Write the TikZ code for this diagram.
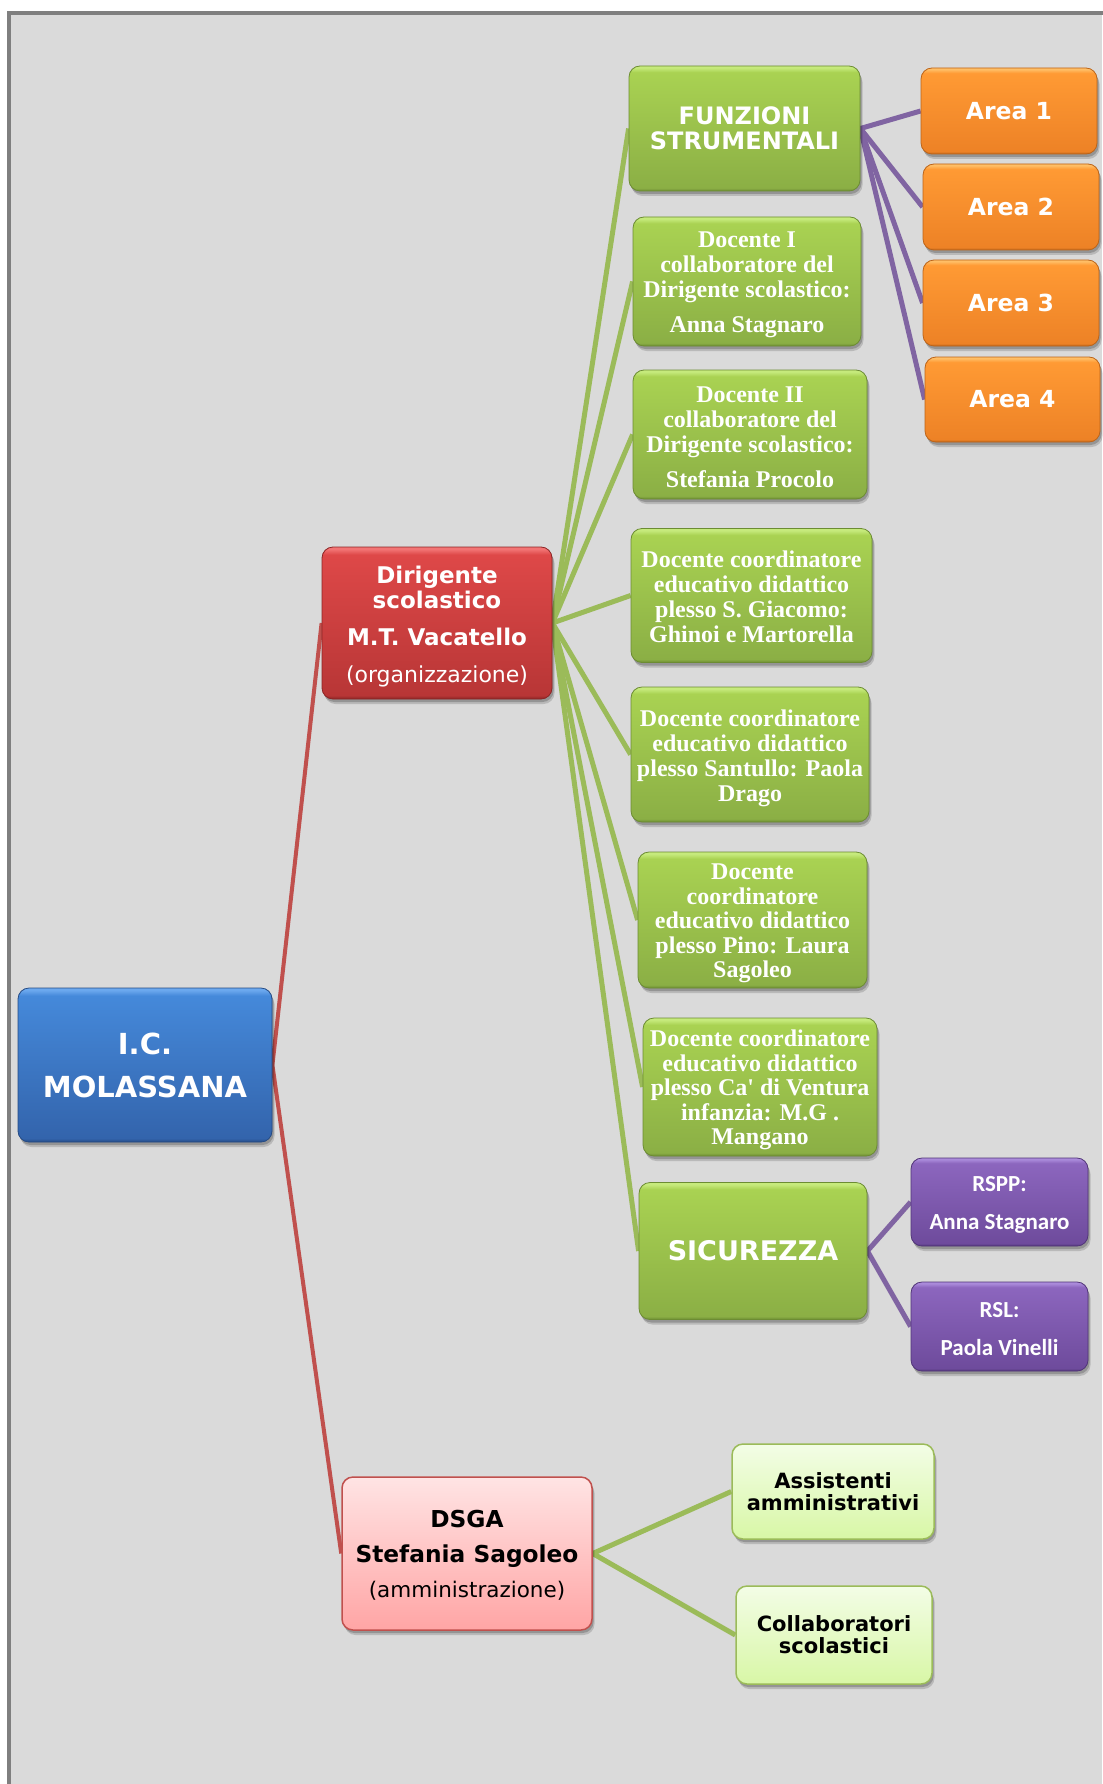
\documentclass[tikz,border=0pt]{standalone}
\usepackage{fontspec}
\usetikzlibrary{shadows}
\newfontfamily\vfont{DejaVu Sans}
\newfontfamily\tfont{Liberation Serif}
\newfontfamily\cfont{Carlito}
\newcommand\liftup[1]{\rule{0pt}{#1}}
\definecolor{bgc}{HTML}{DADADA}
\definecolor{framec}{HTML}{7F7F7F}
% green
\definecolor{gH}{HTML}{C6EA7C}
\definecolor{gT}{HTML}{A9D252}
\definecolor{gB}{HTML}{8BAF45}
\definecolor{gR}{HTML}{6C8C33}
% blue
\definecolor{bH}{HTML}{6CA8EE}
\definecolor{bT}{HTML}{4589DA}
\definecolor{bB}{HTML}{3364AC}
\definecolor{bR}{HTML}{254B84}
% red
\definecolor{rH}{HTML}{F27474}
\definecolor{rT}{HTML}{DE4848}
\definecolor{rB}{HTML}{B83636}
\definecolor{rR}{HTML}{8C2525}
% orange
\definecolor{oH}{HTML}{FFBE66}
\definecolor{oT}{HTML}{FF9A34}
\definecolor{oB}{HTML}{ED8226}
\definecolor{oR}{HTML}{BC6419}
% purple
\definecolor{pH}{HTML}{AA8ADA}
\definecolor{pT}{HTML}{8C66BE}
\definecolor{pB}{HTML}{6E4B9C}
\definecolor{pR}{HTML}{513578}
\definecolor{pkT}{HTML}{FFE4E4}
\definecolor{pkB}{HTML}{FFA5A5}
\definecolor{lgT}{HTML}{F3FDE6}
\definecolor{lgB}{HTML}{D8F7A6}
\definecolor{lineR}{HTML}{C0504D}
\definecolor{lineG}{HTML}{9BBB59}
\definecolor{lineP}{HTML}{8064A2}
\pgfdeclareverticalshading{gsh}{100bp}{color(0bp)=(gR); color(25bp)=(gR); color(26.2bp)=(gB); color(72.5bp)=(gT); color(74.3bp)=(gH); color(100bp)=(gH)}
\pgfdeclareverticalshading{bsh}{100bp}{color(0bp)=(bR); color(25bp)=(bR); color(26.2bp)=(bB); color(72.5bp)=(bT); color(74.3bp)=(bH); color(100bp)=(bH)}
\pgfdeclareverticalshading{rsh}{100bp}{color(0bp)=(rR); color(25bp)=(rR); color(26.2bp)=(rB); color(72.5bp)=(rT); color(74.3bp)=(rH); color(100bp)=(rH)}
\pgfdeclareverticalshading{osh}{100bp}{color(0bp)=(oR); color(25bp)=(oR); color(26.5bp)=(oB); color(72bp)=(oT); color(74.2bp)=(oH); color(100bp)=(oH)}
\pgfdeclareverticalshading{psh}{100bp}{color(0bp)=(pR); color(25bp)=(pR); color(26.5bp)=(pB); color(72bp)=(pT); color(74.2bp)=(pH); color(100bp)=(pH)}
\pgfdeclarelayer{bglayer}
\pgfdeclarelayer{linelayer}
\pgfsetlayers{bglayer,linelayer,main}
\begin{document}
\begin{tikzpicture}[x=1pt,y=-1pt,
  box/.style={rectangle, rounded corners=11pt, inner sep=0pt, align=center,
    drop shadow={shadow xshift=2.5pt, shadow yshift=-5pt, opacity=0.15, fill=black},
    drop shadow={shadow xshift=1.5pt, shadow yshift=-3pt, opacity=0.2, fill=black}},
  bluebox/.style={box, shade, shading=bsh, draw=bR, line width=0.8pt, text=white,
    font=\vfont\bfseries\fontsize{29}{43}\selectfont},
  redbox/.style={box, shade, shading=rsh, draw=rR, line width=0.8pt, text=white,
    font=\vfont\bfseries\fontsize{23}{25}\selectfont},
  greenbox/.style={box, shade, shading=gsh, draw=gR, line width=0.8pt, text=white},
  docbox/.style={greenbox, font=\tfont\bfseries\fontsize{24}{25}\selectfont},
  orbox/.style={box, shade, shading=osh, draw=oR, line width=0.8pt, text=white,
    font=\vfont\bfseries\fontsize{23.5}{28}\selectfont, minimum width=176pt, minimum height=86pt},
  pubox/.style={box, shade, shading=psh, draw=pR, line width=0.8pt, text=white,
    font=\cfont\bfseries\fontsize{23}{38}\selectfont, minimum width=177pt, minimum height=88pt},
  pkbox/.style={box, top color=pkT, bottom color=pkB, draw=lineR, line width=1.5pt, text=black},
  lgbox/.style={box, top color=lgT, bottom color=lgB, draw=lineG, line width=1.5pt, text=black,
    font=\vfont\bfseries\fontsize{21}{22}\selectfont},
  redline/.style={draw=lineR, line width=4pt},
  greenline/.style={draw=lineG, line width=5pt},
  purpleline/.style={draw=lineP, line width=5pt}
]
\useasboundingbox (0,0) rectangle (1102,1784);
\begin{pgfonlayer}{bglayer}
  \fill[white] (0,0) rectangle (1102,1784);
  \fill[bgc] (9,13) rectangle (1102,1784);
  \draw[framec, line width=4pt] (9,1790) -- (9,13) -- (1110,13);
\end{pgfonlayer}

% root
\node[bluebox, minimum width=254pt, minimum height=154pt] (ic) at (145,1065) {\liftup{23pt}I.C.\\MOLASSANA};

% Dirigente
\node[redbox, minimum width=230pt, minimum height=152pt] (dir) at (437,623)
  {\liftup{24pt}Dirigente\\scolastico\\[12pt]M.T. Vacatello\\[12pt]{\mdseries\fontsize{22}{25}\selectfont (organizzazione)}};

% DSGA
\node[pkbox, minimum width=250pt, minimum height=153pt, font=\vfont\bfseries\fontsize{23.3}{35}\selectfont] (dsga) at (467,1553.5)
  {\liftup{21pt}DSGA\\Stefania Sagoleo\\{\mdseries\fontsize{21.5}{35}\selectfont (amministrazione)}};

% Dirigente children
\node[greenbox, minimum width=231pt, minimum height=125pt, font=\vfont\bfseries\fontsize{24}{25}\selectfont] (fs) at (744.5,128.5)
  {FUNZIONI\\STRUMENTALI};
\node[docbox, minimum width=228pt, minimum height=129pt] (d1) at (747,281.5)
  {\liftup{23pt}Docente I\\collaboratore del\\Dirigente scolastico:\\[10pt]Anna Stagnaro};
\node[docbox, minimum width=234pt, minimum height=129pt] (d2) at (750,434.5)
  {\liftup{22pt}Docente II\\collaboratore del\\Dirigente scolastico:\\[10pt]Stefania Procolo};
\node[docbox, minimum width=241pt, minimum height=134pt] (c1) at (751.5,595.5)
  {\liftup{19pt}Docente coordinatore\\educativo didattico\\plesso S. Giacomo:\\Ghinoi e Martorella};
\node[docbox, minimum width=238pt, minimum height=135pt] (c2) at (750,754.5)
  {\liftup{24pt}Docente coordinatore\\educativo didattico\\plesso Santullo: Paola\\Drago};
\node[docbox, minimum width=229pt, minimum height=136pt, font=\tfont\bfseries\fontsize{24}{24.5}\selectfont] (c3) at (752.5,920)
  {\liftup{23pt}Docente\\coordinatore\\educativo didattico\\plesso Pino: Laura\\Sagoleo};
\node[docbox, minimum width=234pt, minimum height=138pt, font=\tfont\bfseries\fontsize{24}{24.5}\selectfont] (c4) at (760,1087)
  {\liftup{23pt}Docente coordinatore\\educativo didattico\\plesso Ca' di Ventura\\infanzia: M.G .\\Mangano};
\node[greenbox, minimum width=228pt, minimum height=137pt, font=\vfont\bfseries\fontsize{27}{30}\selectfont] (sic) at (753,1251)
  {SICUREZZA};

% Areas
\node[orbox] (a1) at (1009,111) {Area 1};
\node[orbox] (a2) at (1011,207) {Area 2};
\node[orbox] (a3) at (1011,303) {Area 3};
\node[orbox, minimum width=175pt, minimum height=85pt] (a4) at (1012.5,399.5) {Area 4};

% Sicurezza children
\node[pubox] (rspp) at (999.5,1202) {\liftup{20pt}RSPP:\\Anna Stagnaro};
\node[pubox, minimum height=89pt] (rsl) at (999.5,1326.5) {\liftup{20pt}RSL:\\Paola Vinelli};

% DSGA children
\node[lgbox, minimum width=202pt, minimum height=95pt] (ass) at (833,1491.5) {Assistenti\\amministrativi};
\node[lgbox, minimum width=196pt, minimum height=98pt] (col) at (834,1635) {Collaboratori\\scolastici};

\begin{pgfonlayer}{linelayer}
  \draw[redline] (ic.east) -- (dir.west);
  \draw[redline] (ic.east) -- (dsga.west);
  \foreach \n in {fs,d1,d2,c1,c2,c3,c4,sic} {
    \draw[greenline] (dir.east) -- (\n.west);
  }
  \foreach \n in {a1,a2,a3,a4} {
    \draw[purpleline] (fs.east) -- (\n.west);
  }
  \draw[purpleline] (sic.east) -- (rspp.west);
  \draw[purpleline] (sic.east) -- (rsl.west);
  \draw[greenline] (dsga.east) -- (ass.west);
  \draw[greenline] (dsga.east) -- (col.west);
\end{pgfonlayer}
\end{tikzpicture}
\end{document}
